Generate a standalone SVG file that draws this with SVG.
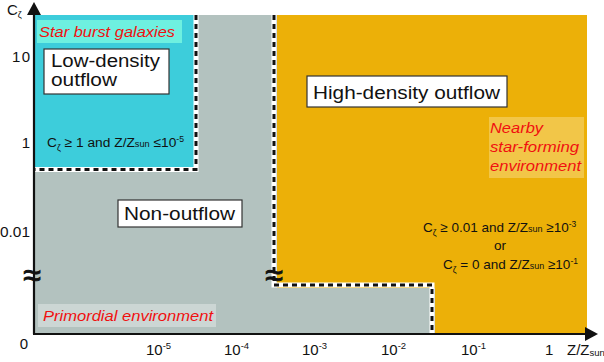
<svg xmlns="http://www.w3.org/2000/svg" width="604" height="362" viewBox="0 0 604 362">
<style>
text{font-family:"Liberation Sans",Arial,sans-serif;fill:#111}
.lab{font-size:15px}
.cond{font-size:13.5px}
.big{font-size:18px}
.env{font-size:15px;font-style:italic;fill:#f01010}
.box{fill:#fff;stroke:#333;stroke-width:1.2}
.dw{fill:none;stroke:#fff;stroke-width:5}
.dk{fill:none;stroke:#111;stroke-width:3;stroke-dasharray:5 4}
.ax{stroke:#111;stroke-width:2.2;fill:none}
.apx{font-size:32px;stroke:#111;stroke-width:0.9}
</style>
<g id="regions">
<rect id="non-outflow-region" x="35" y="15" width="552" height="319" fill="#b3c2bf"/>
<polygon id="high-density-region" points="277,15 587,15 587,334 435,334 435,288 277,288" fill="#ecb008"/>
<rect id="low-density-region" x="35" y="15" width="159" height="152" fill="#3dcddb"/>
</g>
<g id="connectors">
<path class="dw" d="M196,15 V169.5 H35"/>
<path class="dk" d="M196,15 V169.5 H35"/>
<path class="dw" d="M274,15 V285 H432 V334"/>
<path class="dk" d="M274,15 V285 H432 V334"/>
</g>
<g id="axes">
<line class="ax" x1="34" y1="334" x2="34" y2="12"/>
<polygon points="34,2 27,15 41,15" fill="#111"/>
<line class="ax" x1="33" y1="334" x2="588" y2="334"/>
<polygon points="598,334 585,327 585,341" fill="#111"/>
<text class="lab" x="7" y="15">C<tspan font-size="9" dy="3">ζ</tspan></text>
<text class="lab" x="30" y="62" text-anchor="end" textLength="18">10</text>
<text class="lab" x="30" y="148" text-anchor="end">1</text>
<text class="lab" x="0" y="237" textLength="30" lengthAdjust="spacingAndGlyphs">0.01</text>
<text class="apx" x="32" y="286" text-anchor="middle">≈</text>
<text class="apx" x="274" y="286" text-anchor="middle">≈</text>
<text class="lab" x="28" y="349" text-anchor="end">0</text>
<text class="lab" x="146" y="355">10<tspan font-size="9.5" dy="-6">-5</tspan></text>
<text class="lab" x="224" y="355">10<tspan font-size="9.5" dy="-6">-4</tspan></text>
<text class="lab" x="302" y="355">10<tspan font-size="9.5" dy="-6">-3</tspan></text>
<text class="lab" x="381" y="355">10<tspan font-size="9.5" dy="-6">-2</tspan></text>
<text class="lab" x="461" y="355">10<tspan font-size="9.5" dy="-6">-1</tspan></text>
<text class="lab" x="545" y="355">1</text>
<text class="lab" x="567" y="355">Z/Z<tspan font-size="9.5" dy="1">sun</tspan></text>
</g>
<g id="star-burst">
<rect x="37" y="20" width="145" height="23" fill="#6ef0e0"/>
<text class="env" x="39" y="37" textLength="136" lengthAdjust="spacingAndGlyphs">Star burst galaxies</text>
</g>
<g id="low-density">
<rect class="box" x="44" y="49" width="125" height="45"/>
<text class="big" x="51" y="67" textLength="109" lengthAdjust="spacingAndGlyphs">Low-density</text>
<text class="big" x="51" y="86" textLength="66" lengthAdjust="spacingAndGlyphs">outflow</text>
</g>
<g id="low-density-cond">
<text class="cond" transform="translate(47,147) scale(1.02,1)">C<tspan font-size="8.5" dy="4">ζ</tspan><tspan dy="-4"> ≥ 1 and Z/Z</tspan><tspan font-size="9">sun</tspan><tspan> ≤10</tspan><tspan font-size="8.5" dy="-5">-5</tspan></text>
</g>
<g id="high-density">
<rect class="box" x="307" y="76" width="200" height="31"/>
<text class="big" x="313" y="99" textLength="187" lengthAdjust="spacingAndGlyphs">High-density outflow</text>
</g>
<g id="nearby">
<rect x="489" y="117" width="95" height="61" fill="#f2c648"/>
<text class="env" x="490" y="133" textLength="53" lengthAdjust="spacingAndGlyphs">Nearby</text>
<text class="env" x="490" y="152" textLength="89" lengthAdjust="spacingAndGlyphs">star-forming</text>
<text class="env" x="490" y="171" textLength="91" lengthAdjust="spacingAndGlyphs">environment</text>
</g>
<g id="non-outflow">
<rect class="box" x="118" y="200" width="124" height="27"/>
<text class="big" x="124" y="220" textLength="111" lengthAdjust="spacingAndGlyphs">Non-outflow</text>
</g>
<g id="high-density-cond">
<text class="cond" x="423" y="232">C<tspan font-size="8.5" dy="4">ζ</tspan><tspan dy="-4"> ≥ 0.01 and Z/Z</tspan><tspan font-size="9">sun</tspan><tspan> ≥10</tspan><tspan font-size="8.5" dy="-5">-3</tspan></text>
<text class="cond" x="500" y="250" text-anchor="middle">or</text>
<text class="cond" x="443" y="269">C<tspan font-size="8.5" dy="4">ζ</tspan><tspan dy="-4"> = 0 and Z/Z</tspan><tspan font-size="9">sun</tspan><tspan> ≥10</tspan><tspan font-size="8.5" dy="-5">-1</tspan></text>
</g>
<g id="primordial">
<rect x="38" y="304" width="178" height="23" fill="#ccd6d4"/>
<text class="env" x="43" y="321" textLength="170" lengthAdjust="spacingAndGlyphs">Primordial environment</text>
</g>
</svg>
